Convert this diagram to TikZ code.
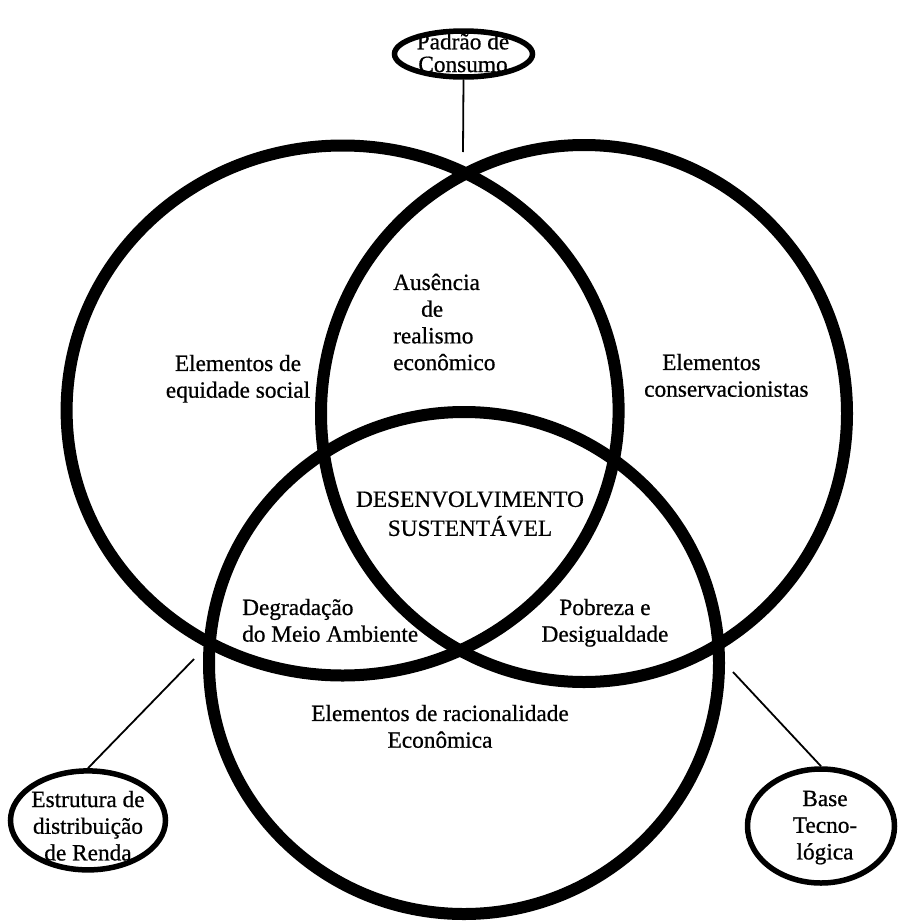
\documentclass[tikz,border=0pt]{standalone}
\usepackage{fontspec}
\setmainfont{Liberation Serif}[FakeBold=0.7]
\usetikzlibrary{shapes.geometric}
\begin{document}
\begin{tikzpicture}[x=1pt,y=-1pt,
  ring/.style={draw, ellipse, line width=12pt, inner sep=0pt},
  tag/.style={draw, ellipse, line width=5.5pt, inner sep=0pt},
  lbl/.style={inner sep=0pt, font=\fontsize{23.3}{26.7}\selectfont, align=center},
  lbll/.style={lbl, align=left, anchor=west},
  link/.style={line width=1.8pt}
]
\fill[white] (0,0) rectangle (898,921);
\useasboundingbox (0,0) rectangle (898,921);

% the three overlapping sets
\node[ring, minimum width=552pt, minimum height=530pt] (social) at (342.6,410.5) {};
\node[ring, minimum width=526pt, minimum height=537pt] (conserv) at (584,413.5) {};
\node[ring, minimum width=510pt, minimum height=502pt] (racional) at (464,663) {};

% outer factors
\node[tag, minimum width=138pt, minimum height=46pt] (padrao) at (463.5,54) {};
\node[tag, minimum width=155pt, minimum height=99pt] (renda) at (88,820.4) {};
\node[tag, minimum width=147pt, minimum height=114pt] (tecno) at (821,826) {};

\node[lbl, font=\fontsize{23.3}{22.7}\selectfont] (padraoTxt) at (463,56) {\strut Padrão de\\Consumo\strut};
\node[lbl] (rendaTxt) at (88,828.4) {\strut Estrutura de\\distribuição\\de Renda\strut};
\node[lbl] (tecnoTxt) at (825,827.4) {\strut Base\\Tecno-\\lógica\strut};

% links from the factors to the diagram
\coordinate (padraoEnd) at (463,152);
\coordinate (rendaEnd) at (194,659);
\coordinate (tecnoEnd) at (733,672);
\draw[link] (padrao.south) -- (padraoEnd);
\draw[link] (renda.north) -- (rendaEnd);
\draw[link] (tecno.north) -- (tecnoEnd);

% region labels
\node[lbl] (equidade) at (238,379) {\strut Elementos de\\equidade social\strut};
\node[lbll] (conservTxt) at (644,378) {\strut\hspace*{18pt}Elementos\\conservacionistas\strut};
\node[lbll] (ausencia) at (393,324.7) {\strut Ausência\\\hspace*{28pt}de\\realismo\\econômico\strut};
\node[lbl] (desenv) at (470,516) {\strut DESENVOLVIMENTO\\SUSTENTÁVEL\strut};
\node[lbll] (degrad) at (242,623) {\strut Degradação\\do Meio Ambiente\strut};
\node[lbl] (pobreza) at (605,623) {\strut Pobreza e\\Desigualdade\strut};
\node[lbl] (racionalTxt) at (440,729) {\strut Elementos de racionalidade\\Econômica\strut};
\end{tikzpicture}
\end{document}
